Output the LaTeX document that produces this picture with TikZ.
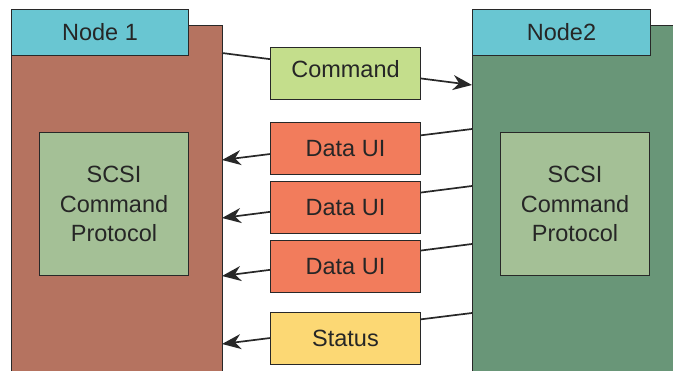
\documentclass[tikz,border=0pt]{standalone}
\usepackage{fontspec}
\setmainfont{Liberation Sans}
\usetikzlibrary{arrows.meta,positioning}
\definecolor{HeadCyan}{RGB}{105,198,210}
\definecolor{HostBrown}{RGB}{181,115,96}
\definecolor{TargetGreen}{RGB}{105,150,120}
\definecolor{ProtoGreen}{RGB}{164,192,150}
\definecolor{CmdGreen}{RGB}{196,222,140}
\definecolor{DataOrange}{RGB}{242,124,92}
\definecolor{StatusGold}{RGB}{252,216,116}
\definecolor{EdgeGray}{RGB}{40,40,40}
\newcommand{\msgline}[3]{%
  \draw[line width=1.7pt,EdgeGray,#3] (#1)--(#2);}

\begin{document}
\begin{tikzpicture}[x=1pt,y=-1pt,
  box/.style={draw=EdgeGray,line width=1pt,anchor=north west,inner sep=0pt,
    align=center,text=black!85,font=\fontsize{23.5}{29.5}\selectfont},
  msg/.style={box,minimum width=150pt,minimum height=52pt},
  tip/.style={-{Stealth[length=19pt,width=15pt,inset=6pt]}}]
  \useasboundingbox (0,0) rectangle (673,371);
  \clip (0,0) rectangle (673,371);
  % the two nodes
  \node[box,fill=HostBrown,minimum width=211pt,minimum height=360pt] (hostbody) at (11,25) {};
  \node[box,fill=HeadCyan,minimum width=177pt,minimum height=46pt] (hosthead) at (11,9) {Node 1};
  \node[box,fill=TargetGreen,minimum width=230pt,minimum height=360pt] (tgtbody) at (472,25) {};
  \node[box,fill=HeadCyan,minimum width=178pt,minimum height=46pt] (tgthead) at (472,9) {Node2};
  \node[box,fill=ProtoGreen,minimum width=149pt,minimum height=143pt] (hostproto) at (39,132) {SCSI\\Command\\Protocol};
  \node[box,fill=ProtoGreen,minimum width=149pt,minimum height=143pt] (tgtproto) at (500,132) {SCSI\\Command\\Protocol};
  % ends of the message lines
  \coordinate (h1) at (222,53);  \coordinate (t1) at (472,85);
  \coordinate (h2) at (222,160); \coordinate (t2) at (472,129);
  \coordinate (h3) at (222,218); \coordinate (t3) at (472,186);
  \coordinate (h4) at (222,276); \coordinate (t4) at (472,244);
  \coordinate (h5) at (222,344); \coordinate (t5) at (472,313);
  \msgline{h1}{t1}{tip}
  \msgline{t2}{h2}{tip}
  \msgline{t3}{h3}{tip}
  \msgline{t4}{h4}{tip}
  \msgline{t5}{h5}{tip}
  % messages
  \node[msg,fill=CmdGreen] (cmd) at (270,47) {\raisebox{9pt}{Command}};
  \node[msg,fill=DataOrange] (data1) at (270,122) {Data UI};
  \node[msg,fill=DataOrange,below=6pt of data1.south west,anchor=north west] (data2) {Data UI};
  \node[msg,fill=DataOrange,below=6pt of data2.south west,anchor=north west] (data3) {Data UI};
  \node[msg,fill=StatusGold] (status) at (270,312) {Status};
\end{tikzpicture}
\end{document}
